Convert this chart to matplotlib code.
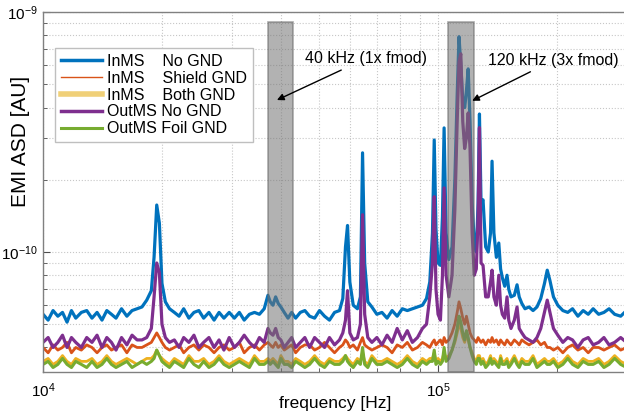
import numpy as np
import matplotlib
matplotlib.use("Agg")
import matplotlib.pyplot as plt
from matplotlib.lines import Line2D
from matplotlib.ticker import NullFormatter

plt.rcParams['font.family'] = ['Liberation Sans', 'DejaVu Sans']
plt.rcParams['mathtext.default'] = 'regular'

# frequency grid (kHz)
freq_khz = [
    10.0, 10.3, 10.6, 10.9, 11.2, 11.5, 11.8, 12.1, 12.5, 12.9,
    13.3, 13.7, 14.1, 14.5, 14.9, 15.3, 15.8, 16.3, 16.8, 17.3,
    17.8, 18.3, 18.8, 19.1, 19.4, 19.7, 20.0, 20.4, 20.9, 21.5,
    22.1, 22.7, 23.4, 24.1, 24.8, 25.5, 26.3, 27.1, 27.9, 28.7,
    29.6, 30.5, 31.4, 32.3, 33.3, 34.3, 35.3, 36.3, 37.1, 37.6,
    38.2, 38.8, 39.4, 40.0, 40.8, 41.7, 42.6, 43.6, 44.8, 46.0,
    47.3, 48.7, 50.1, 51.6, 53.1, 54.7, 56.3, 57.4, 58.3, 59.0,
    59.8, 61.0, 62.5, 63.6, 64.4, 65.2, 66.4, 68.0, 70.0, 72.1,
    74.3, 76.5, 78.8, 81.2, 83.6, 86.1, 88.7, 91.3, 93.5, 95.3,
    96.8, 97.8, 98.8, 100.0, 101.4, 102.6, 103.6, 104.8, 106.5, 108.5,
    110.3, 111.8, 113.0, 114.2, 115.5, 116.8, 118.0, 119.2, 120.5, 122.0,
    123.5, 125.0, 126.3, 127.3, 128.5, 130.0, 132.0, 134.0, 135.8, 137.0,
    138.5, 140.5, 142.5, 144.0, 145.5, 147.5, 149.5, 151.0, 153.0, 156.0,
    158.5, 160.5, 163.0, 166.0, 170.0, 174.0, 178.0, 182.0, 186.0, 189.0,
    192.0, 196.0, 201.0, 207.0, 213.0, 219.0, 226.0, 233.0, 240.0, 247.0,
    255.0, 263.0, 271.0, 280.0, 290.0, 300.0,
]

# EMI ASD in units of 1e-11 AU
inms_no_gnd = [
    5.5, 5.2, 5.7, 5.4, 5.6, 5.1, 5.7, 5.3, 5.6, 5.7,
    5.3, 5.6, 5.2, 5.7, 5.5, 5.3, 5.8, 5.4, 5.7, 5.8,
    5.9, 6.3, 6.9, 9.5, 15.7, 13.2, 7.4, 6.2, 5.8, 5.6,
    5.4, 5.8, 5.3, 5.6, 5.7, 5.3, 5.6, 5.2, 5.6, 5.3,
    5.6, 5.3, 5.6, 5.2, 5.5, 5.6, 5.5, 5.8, 6.6, 6.2,
    6.0, 6.5, 6.1, 5.9, 5.6, 5.3, 5.6, 5.3, 5.6, 5.7,
    5.4, 5.3, 5.7, 5.4, 5.2, 5.6, 5.7, 6.4, 10.5, 12.9,
    7.5, 6.0, 5.8, 6.5, 25.9, 9.0, 6.2, 5.9, 5.5, 5.6,
    5.3, 5.7, 5.4, 5.8, 5.7, 5.8, 5.9, 6.0, 6.4, 7.5,
    12.0, 29.3, 12.5, 9.0, 8.8, 14.0, 32.9, 12.0, 9.3, 10.5,
    20.0, 45.0, 79.0, 60.0, 43.0, 40.0, 47.0, 58.0, 35.0, 16.0,
    11.0, 10.0, 16.0, 37.6, 16.0, 16.5, 10.5, 10.0, 12.0, 23.9,
    12.0, 9.5, 10.9, 8.5, 7.8, 7.2, 8.0, 7.0, 6.5, 6.6,
    7.3, 6.5, 6.1, 5.8, 5.9, 5.7, 5.9, 6.4, 7.4, 8.4,
    7.6, 6.5, 6.0, 5.7, 5.6, 5.8, 5.4, 5.7, 5.5, 5.8,
    5.5, 5.6, 5.8, 5.5, 5.4, 5.7,
]

inms_shield_gnd = [
    4.0, 3.8, 4.1, 3.9, 4.0, 4.2, 3.8, 4.0, 3.9, 4.1,
    4.0, 3.8, 4.0, 4.1, 3.9, 4.0, 4.1, 3.8, 4.1, 4.0,
    4.0, 4.1, 4.2, 4.4, 4.6, 4.4, 4.2, 4.0, 3.9, 4.0,
    4.1, 3.8, 4.0, 4.1, 3.9, 4.1, 4.0, 3.8, 4.0, 4.1,
    3.9, 4.0, 4.2, 3.8, 4.0, 4.1, 3.9, 4.1, 4.2, 4.1,
    4.0, 4.2, 4.0, 4.1, 3.9, 4.0, 4.1, 3.8, 4.0, 4.1,
    4.1, 3.9, 4.0, 4.2, 4.0, 3.8, 4.0, 4.1, 4.3, 4.2,
    4.0, 4.1, 3.9, 4.2, 4.4, 4.1, 4.0, 3.9, 4.0, 4.1,
    4.0, 3.8, 4.1, 4.0, 4.2, 3.9, 4.0, 4.2, 4.1, 4.0,
    4.2, 4.3, 4.1, 4.2, 4.3, 4.1, 4.4, 4.2, 4.3, 4.6,
    5.0, 5.6, 6.2, 5.8, 5.3, 5.0, 5.4, 5.0, 4.6, 4.4,
    4.3, 4.2, 4.4, 4.3, 4.2, 4.3, 4.1, 4.3, 4.2, 4.4,
    4.2, 4.3, 4.1, 4.3, 4.2, 4.1, 4.3, 4.2, 4.1, 4.3,
    4.2, 4.1, 4.3, 4.2, 4.1, 4.2, 4.3, 4.1, 4.2, 4.0,
    4.0, 3.9, 4.0, 3.8, 4.0, 4.1, 3.9, 4.0, 3.8, 4.0,
    4.0, 3.9, 4.0, 4.1, 3.9, 4.0,
]

inms_both_gnd = [
    3.5, 3.6, 3.4, 3.5, 3.7, 3.5, 3.4, 3.6, 3.5, 3.5,
    3.6, 3.4, 3.5, 3.7, 3.5, 3.4, 3.5, 3.6, 3.5, 3.4,
    3.5, 3.6, 3.6, 3.7, 3.9, 3.7, 3.6, 3.5, 3.4, 3.6,
    3.5, 3.4, 3.7, 3.5, 3.5, 3.6, 3.4, 3.5, 3.7, 3.5,
    3.4, 3.5, 3.6, 3.5, 3.4, 3.7, 3.5, 3.5, 3.6, 3.5,
    3.6, 3.5, 3.4, 3.7, 3.5, 3.5, 3.4, 3.6, 3.5, 3.4,
    3.5, 3.7, 3.5, 3.4, 3.6, 3.5, 3.5, 3.6, 3.7, 3.6,
    3.5, 3.4, 3.6, 3.5, 3.8, 3.5, 3.4, 3.7, 3.5, 3.5,
    3.6, 3.5, 3.4, 3.5, 3.7, 3.5, 3.4, 3.6, 3.5, 3.6,
    3.6, 3.8, 3.5, 3.6, 3.5, 3.6, 3.8, 3.6, 3.7, 3.9,
    4.2, 4.6, 5.0, 4.8, 4.4, 4.2, 4.5, 4.3, 4.0, 3.8,
    3.6, 3.5, 3.7, 3.7, 3.5, 3.6, 3.4, 3.5, 3.7, 3.5,
    3.6, 3.5, 3.4, 3.7, 3.5, 3.5, 3.6, 3.4, 3.5, 3.7,
    3.5, 3.4, 3.6, 3.5, 3.5, 3.7, 3.4, 3.5, 3.6, 3.5,
    3.5, 3.6, 3.4, 3.5, 3.7, 3.5, 3.4, 3.6, 3.5, 3.5,
    3.6, 3.4, 3.5, 3.7, 3.5, 3.4,
]

outms_no_gnd = [
    4.2, 4.4, 4.0, 4.2, 4.5, 4.0, 4.4, 4.2, 4.0, 4.4,
    4.2, 4.5, 4.0, 4.4, 4.2, 3.9, 4.4, 4.1, 4.5, 4.3,
    4.3, 4.4, 4.8, 6.5, 9.0, 8.2, 5.0, 4.4, 4.2, 4.3,
    4.0, 4.4, 4.2, 4.5, 4.0, 4.2, 4.4, 4.0, 4.3, 3.9,
    4.4, 4.0, 4.2, 4.5, 4.2, 4.0, 4.4, 4.2, 4.8, 4.6,
    4.5, 4.8, 4.4, 4.3, 4.0, 4.2, 4.4, 4.0, 4.2, 4.4,
    4.0, 4.4, 4.2, 4.0, 4.4, 4.1, 4.3, 4.6, 5.2, 6.9,
    4.6, 4.3, 4.4, 5.0, 14.3, 5.5, 4.4, 4.2, 4.4, 4.1,
    4.5, 4.2, 4.8, 4.3, 4.7, 4.2, 4.4, 4.8, 5.0, 6.5,
    9.0, 17.0, 7.0, 5.5, 5.2, 8.0, 18.5, 8.0, 6.5, 8.0,
    15.0, 35.0, 62.0, 67.0, 35.0, 27.0, 30.0, 38.0, 27.0, 12.0,
    8.0, 8.5, 14.0, 33.0, 9.0, 8.8, 6.5, 6.5, 7.5, 8.4,
    6.5, 6.0, 8.0, 6.0, 5.5, 5.3, 6.5, 5.2, 4.8, 5.2,
    5.9, 4.8, 4.6, 4.4, 4.3, 4.2, 4.4, 4.8, 5.6, 6.3,
    5.6, 4.8, 4.5, 4.2, 4.4, 4.3, 4.0, 4.3, 4.4, 4.1,
    4.2, 4.4, 4.1, 4.2, 4.4, 4.2,
]

outms_foil_gnd = [
    3.4, 3.5, 3.3, 3.4, 3.6, 3.4, 3.3, 3.5, 3.4, 3.3,
    3.5, 3.3, 3.4, 3.6, 3.4, 3.3, 3.4, 3.5, 3.3, 3.4,
    3.5, 3.4, 3.5, 3.6, 3.9, 3.7, 3.5, 3.4, 3.3, 3.5,
    3.4, 3.3, 3.6, 3.4, 3.3, 3.5, 3.3, 3.4, 3.6, 3.4,
    3.3, 3.4, 3.5, 3.4, 3.3, 3.6, 3.4, 3.4, 3.5, 3.4,
    3.5, 3.4, 3.3, 3.6, 3.4, 3.4, 3.3, 3.5, 3.4, 3.3,
    3.4, 3.6, 3.4, 3.3, 3.5, 3.4, 3.4, 3.5, 3.7, 3.5,
    3.4, 3.3, 3.5, 3.4, 4.0, 3.4, 3.3, 3.6, 3.4, 3.4,
    3.5, 3.4, 3.3, 3.4, 3.6, 3.4, 3.3, 3.5, 3.4, 3.5,
    3.5, 3.9, 3.4, 3.5, 3.4, 3.5, 4.0, 3.5, 3.6, 3.9,
    4.3, 4.8, 5.4, 5.1, 4.6, 4.3, 4.7, 4.4, 4.0, 3.7,
    3.5, 3.4, 3.6, 3.6, 3.4, 3.5, 3.3, 3.4, 3.6, 3.4,
    3.5, 3.4, 3.3, 3.6, 3.4, 3.4, 3.5, 3.3, 3.4, 3.6,
    3.4, 3.3, 3.5, 3.4, 3.4, 3.6, 3.3, 3.4, 3.5, 3.4,
    3.4, 3.5, 3.3, 3.4, 3.6, 3.4, 3.3, 3.5, 3.4, 3.4,
    3.5, 3.3, 3.4, 3.6, 3.4, 3.3,
]

col1 = ["InMS", "InMS", "InMS", "OutMS", "OutMS"]
col2 = ["No GND", "Shield GND", "Both GND", "No GND", "Foil GND"]

# highlighted bands (Hz) and annotations
band_lo = [37.1e3, 106e3]
band_hi = [42.9e3, 123e3]
notes = ["40 kHz (1x fmod)", "120 kHz (3x fmod)"]
note_tip = [(3.91e4, 4.3e-10), (1.22e5, 4.27e-10)]
note_txt = [(4.6e4, 6.4e-10), (1.34e5, 6.3e-10)]

f = np.array(freq_khz) * 1e3
series = [inms_no_gnd, inms_shield_gnd, inms_both_gnd, outms_no_gnd, outms_foil_gnd]
colors = ['#0072BD', '#D95319', '#EDB120', '#7E2F8E', '#77AC30']
lws = [2.3, 2.0, 2.0, 2.3, 2.2]

fig = plt.figure(figsize=(6.24, 4.18), dpi=100)
ax = fig.add_axes([0.069, 0.110, 0.935, 0.861])

for s, c, lw in zip(series, colors, lws):
    ax.plot(f, np.array(s) * 1e-11, color=c, lw=lw)

for lo, hi in zip(band_lo, band_hi):
    ax.axvspan(lo, hi, ymin=0, ymax=0.972, facecolor='0.45', alpha=0.55,
               edgecolor='0.4', lw=1.2, zorder=5)

for txt, tip, pos in zip(notes, note_tip, note_txt):
    ax.annotate(txt, xy=tip, xytext=pos, fontsize=11.5, ha='left', va='center',
                arrowprops=dict(arrowstyle='-|>', color='k', lw=1.0,
                                mutation_scale=10, shrinkA=2, shrinkB=0),
                zorder=6)

ax.set_xscale('log')
ax.set_yscale('log')
ax.set_xlim(1e4, 3e5)
ax.set_ylim(3.16e-11, 1e-9)
ax.xaxis.set_minor_formatter(NullFormatter())
ax.yaxis.set_minor_formatter(NullFormatter())
ax.grid(True, which='both', ls=':', color='0.78', lw=0.8)
ax.tick_params(which='both', direction='in', colors='0.3', labelcolor='black',
               labelsize=11)
ax.tick_params(which='major', length=5)
ax.tick_params(which='minor', length=3)
ax.tick_params(axis='x', pad=7)
for sp in ax.spines.values():
    sp.set_color('0.5')
    sp.set_linewidth(1.0)

ax.set_xlabel("frequency [Hz]", fontsize=12.5)
ax.xaxis.set_label_coords(0.5, -0.068)
ax.set_ylabel("EMI ASD [AU]", fontsize=15)
ax.yaxis.set_label_coords(-0.022, 0.642)

# legend with two aligned text columns
handles = [
    Line2D([], [], color=colors[0], lw=2.5),
    Line2D([], [], color=colors[1], lw=1.0),
    Line2D([], [], color='#F0D078', lw=4.0),
    Line2D([], [], color=colors[3], lw=2.5),
    Line2D([], [], color=colors[4], lw=2.2),
]
labels = []
for a, b in zip(col1, col2):
    pad = "    " if a == "InMS" else " "
    labels.append(a + pad + b)
leg = ax.legend(handles, labels, loc='upper left', bbox_to_anchor=(0.0206, 0.9),
                borderaxespad=0, fontsize=11.5, handlelength=2.6,
                handletextpad=0.3, labelspacing=0.12, borderpad=0.35,
                fancybox=False, framealpha=1, edgecolor='0.75')
leg.set_zorder(7)

fig.savefig("out.png", dpi=100)
